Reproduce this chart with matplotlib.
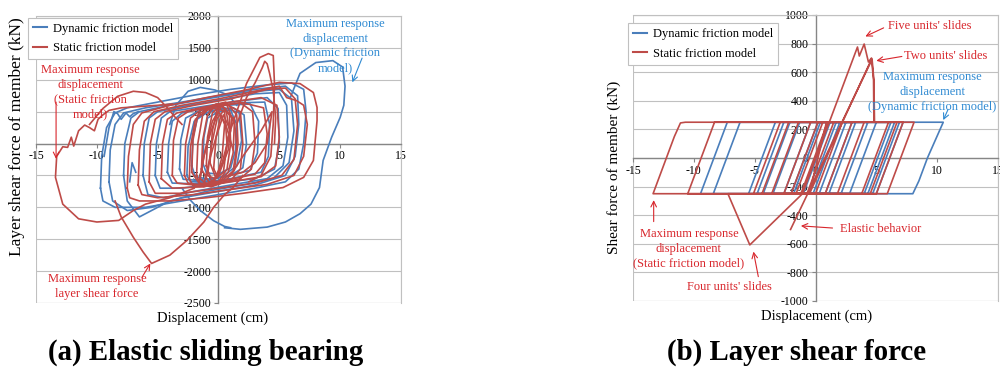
import matplotlib
matplotlib.use("Agg")
import matplotlib.pyplot as plt
from matplotlib.patches import Rectangle
from matplotlib.lines import Line2D

plt.rcParams['font.family'] = ['Liberation Serif', 'DejaVu Serif']
plt.rcParams['axes.unicode_minus'] = False

BLUE = '#4a7ebb'
RED = '#be4b48'
TBLUE = '#2f8ad2'
TRED = '#d8262c'

# ---------------- (a) Elastic sliding bearing : loops (x cm, y kN) ----------------
a_dyn_loops = [
    ([-9.7, -9.6, -9.2, -8.5, -7.5, -5, -2, 1, 4, 6, 7.0, 7.2, 7.0, 6.6, 5.5, 3, 0, -3, -6, -8.5, -9.5, -9.7],
     [-700, -200, 250, 480, 560, 650, 760, 850, 920, 950, 850, 500, 0, -400, -600, -700, -800, -900, -1000, -1000, -900, -700]),
    ([-9.0, -8.9, -8.5, -7.8, -6, -3, 0, 3, 5.5, 6.5, 6.6, 6.3, 5.5, 3, 0, -3, -5.5, -7.5, -8.7, -9.0],
     [-600, -100, 300, 480, 560, 650, 750, 850, 900, 750, 300, -200, -500, -650, -750, -850, -1000, -1050, -900, -600]),
    ([-7.8, -7.7, -7.2, -6.5, -4, -1, 2, 5, 6.0, 6.2, 5.8, 4.5, 2, -1, -4, -6.5, -7.5, -7.8],
     [-500, 0, 400, 500, 600, 700, 800, 850, 700, 200, -300, -550, -650, -750, -900, -1150, -900, -500]),
    ([-6.2, -6.1, -5.7, -5, -3, 0, 3, 5, 5.6, 5.7, 5.3, 4, 1, -2, -4.5, -5.8, -6.2],
     [-500, 0, 400, 500, 580, 680, 780, 800, 600, 100, -350, -550, -650, -750, -850, -800, -500]),
    ([-5.2, -5.1, -4.7, -4, -2, 1, 4, 4.9, 5.0, 4.6, 3, 0, -3, -4.8, -5.2],
     [-500, 0, 400, 500, 560, 650, 720, 550, 0, -400, -550, -620, -700, -700, -500]),
    ([-4.2, -4.1, -3.8, -3, -1, 2, 3.8, 4.2, 4.1, 3.5, 1, -2, -3.8, -4.2],
     [-450, 0, 350, 480, 560, 640, 650, 300, -200, -450, -550, -630, -620, -450]),
    ([-3.2, -3.1, -2.7, -1.5, 0.5, 2.6, 3.3, 3.2, 2.6, 0.5, -1.5, -2.9, -3.2],
     [-400, 50, 400, 520, 600, 620, 350, -150, -420, -520, -580, -560, -400]),
    ([-2.2, -2.1, -1.7, -0.5, 1.2, 2.1, 2.3, 2.0, 1, -0.8, -1.9, -2.2],
     [-350, 100, 420, 520, 560, 450, 0, -380, -500, -560, -520, -350]),
    ([-1.3, -1.2, -0.9, 0, 1.0, 1.5, 1.4, 1.0, 0, -1.0, -1.3],
     [-300, 100, 400, 500, 520, 300, -100, -380, -480, -460, -300]),
    ([-3.0, -2.3, -1.5, -0.4, 0.5, 1.0],
     [-700, -890, -1050, -1210, -1300, -1320]),
    ([0.5, 1.8, 4.0, 5.5, 6.7, 7.6, 8.3, 8.6, 9.3, 10.0, 10.3, 10.4, 10.2, 9.4, 8.0, 6.7, 5.9],
     [-1320, -1345, -1310, -1230, -1100, -950, -690, -265, 100, 410, 600, 900, 1200, 1300, 1270, 1100, 720]),
    ([-4.0, -3.5, -2.5, -1.5, -0.3, 0.8, 1.5],
     [300, 600, 820, 880, 840, 760, 600]),
    ([-9.4, -9.0, -8.6, -8.3, -8.0, -7.6, -7.3, -7.0, -6.6],
     [-200, 250, 500, 470, 380, 480, 420, 470, 500]),
    ([-7.3, -7.1, -6.8],
     [-600, -300, -450]),
    ([-2.6, -2.5, -2.0, -1.0, 0.5, 1.7, 1.9, 1.5, 0.3, -1.2, -2.3, -2.6],
     [-500, -50, 350, 480, 560, 480, 50, -350, -520, -600, -600, -500]),
]

a_sta_loops = [
    ([-2.0, -4.0, -6.0, -7.0, -8.2, -10.0, -11.5, -12.8, -13.4, -13.3, -12.8, -12.4, -12.1, -11.9, -11.5, -11.0, -10.6, -10.2, -9.9, -9.5, -9.0, -8.0, -6.5, -5.0, -3.8],
     [-700, -850, -950, -1050, -1205, -1230, -1180, -950, -530, -200, -50, -60, 100, -40, 200, 290, 250, 200, 380, 450, 520, 560, 580, 600, 620]),
    ([-10.6, -9.5, -8.3, -7.0, -6.0, -5.0, -4.2, -3.6, -3.0],
     [300, 550, 740, 820, 800, 720, 560, 420, 300]),
    ([-8.5, -8.0, -7.0, -6.2, -5.5, -4.0, -2.6, -1.2, -0.4, 0.5, 1.2, 2.0],
     [-900, -1150, -1470, -1700, -1880, -1750, -1520, -1230, -1000, -800, -690, -500]),
    ([-7.5, -7.4, -7.0, -6.3, -4, -1, 2, 5, 6.7, 7.8, 8.1, 8.1, 7.8, 7.0, 5.3, 2, -1, -4, -6.5, -7.3, -7.5],
     [-700, -200, 300, 480, 600, 720, 830, 960, 940, 800, 565, 360, -265, -530, -690, -780, -850, -900, -900, -850, -700]),
    ([-6.6, -6.5, -6.1, -5.3, -3, 0, 3, 5, 5.6, 6.4, 7.0, 7.3, 7.0, 6.2, 4, 1, -2, -5, -6.3, -6.6],
     [-650, -100, 350, 500, 600, 700, 820, 900, 720, 675, 600, 300, -200, -500, -640, -720, -800, -850, -800, -650]),
    ([-5.7, -5.6, -5.2, -4.4, -2, 1, 4, 5.5, 6.3, 6.5, 6.2, 5.2, 3, 0, -3, -5.2, -5.7],
     [-600, 0, 380, 500, 600, 700, 850, 870, 700, 300, -250, -500, -620, -700, -780, -780, -600]),
    ([-4.7, -4.6, -4.2, -3.4, -1.5, 1, 3.5, 4.8, 5.0, 4.7, 3.5, 1, -1.5, -3.8, -4.7],
     [-550, 0, 380, 480, 560, 650, 720, 600, 100, -350, -520, -600, -680, -700, -550]),
    ([-3.8, -3.7, -3.3, -2.5, -0.5, 2, 3.7, 4.0, 3.8, 3.0, 0.5, -2, -3.4, -3.8],
     [-500, 50, 400, 500, 580, 640, 560, 150, -300, -480, -580, -650, -620, -500]),
    ([0.7, 1.5, 2.3, 3.4, 4.1, 4.5, 4.6, 4.5, 4.3, 3.5, 2.5],
     [50, 500, 940, 1350, 1410, 1380, 940, 310, -200, -500, -600]),
    ([1.5, 2.3, 3.0, 3.6, 3.8, 4.0, 4.2, 4.5, 4.7, 4.6],
     [300, 720, 950, 1190, 1290, 1250, 1100, 830, 400, 0]),
    ([-2.8, -2.7, -2.3, -1.5, 0, 1.8, 2.8, 3.0, 2.7, 1.8, 0, -1.5, -2.5, -2.8],
     [-500, 0, 400, 520, 600, 640, 500, 0, -400, -550, -620, -650, -620, -500]),
    ([-2.2, -2.1, -1.7, -0.8, 0.6, 1.8, 2.0, 1.8, 1.0, -0.3, -1.6, -2.2],
     [-450, 50, 450, 560, 620, 500, 0, -400, -580, -650, -620, -450]),
    ([-1.8, -1.7, -1.3, -0.5, 0.6, 1.5, 1.6, 1.3, 0.5, -0.6, -1.5, -1.8],
     [-500, 0, 450, 600, 650, 450, 0, -420, -600, -680, -640, -500]),
    ([-1.4, -1.3, -0.9, -0.2, 0.7, 1.3, 1.2, 0.8, 0, -0.8, -1.4],
     [-400, 50, 450, 620, 600, 300, -150, -450, -620, -600, -400]),
    ([-1.0, -0.9, -0.5, 0.2, 0.9, 1.0, 0.7, 0, -0.6, -1.0],
     [-350, 100, 480, 600, 450, 0, -400, -600, -580, -350]),
    ([-0.7, -0.5, -0.1, 0.5, 0.7, 0.4, -0.2, -0.7],
     [-300, 200, 550, 500, 0, -450, -550, -300]),
    ([-1.6, -1.2, -0.6, 0.0, 0.6, 1.2],
     [-600, -200, 200, 500, 300, -100]),
    ([-1.2, -0.8, -0.2, 0.4, 1.0, 0.3, -0.5, -1.2],
     [-650, -300, 100, 450, 200, -300, -650, -650]),
    ([1.0, 2.0, 3.5, 4.4, 4.0, 3.0, 2.0, 1.0],
     [-500, -200, 200, 500, 0, -300, -450, -500]),
    ([-1.5, -1.1, -0.5, 0.3, 1.1, 0.8, 0.0, -0.9, -1.5],
     [-550, -100, 350, 600, 400, -100, -500, -650, -550]),
    ([-0.9, -0.6, -0.1, 0.6, 0.9, 0.5, -0.3, -0.9],
     [-500, -50, 400, 550, 200, -250, -550, -500]),
    ([-2.4, -2.3, -1.9, -1.0, 0.3, 1.3, 1.5, 1.2, 0.2, -1.2, -2.1, -2.4],
     [-550, -50, 380, 520, 580, 380, -50, -430, -600, -680, -660, -550]),
    ([-0.4, -0.2, 0.2, 0.5, 0.3, -0.1, -0.4],
     [-400, 100, 450, 300, -200, -500, -400]),
]

# ---------------- (b) Layer shear force : polylines (x cm, y kN) ----------------
b_dyn_x = [0, 1.1, 2.0, -0.2, -2.0, 0.2, 3.3, 1.1, -3.5, -1.3, 4.3, 2.1, -4.8, -2.6, 6.5, 4.3,
           -5.5, -3.3, 7.2, 5.0, -9.45, -7.25, 10.5, 9.2, 8.5, 8.0, -8.4, -6.2, 6.9, 4.7, -4.3,
           -2.1, 6.2, 4.0, -2.6, -0.4, 5.0, 2.8, -1.8, 0.4, 3.0, 0.8, -1.0, 1.2, 2.5, 0.3, -0.5, 1.7]
b_dyn_y = [0, 250, 250, -250, -250, 250, 250, -250, -250, 250, 250, -250, -250, 250, 250, -250,
           -250, 250, 250, -250, -250, 250, 250, 0, -160, -250, -250, 250, 250, -250, -250,
           250, 250, -250, -250, 250, 250, -250, -250, 250, 250, -250, -250, 250, 250, -250, -250, 250]

b_sta_x = [-2.05, 4.65, 4.8, 4.85, 8.1, 5.9, -13.35, -11.6, -11.1, -10.7, 7.2, 5.0, -10.5, -8.3,
           6.7, 4.5, -7.2, -5.4, -1.07, 3.45, 3.6, 4.0, 4.35, 4.6, 4.77, 4.8, 6.0, 3.8, -5.1,
           -2.9, 4.0, 1.8, -4.4, -2.2, 3.0, 0.8, -3.6, -1.4, 2.2, 0.0, -2.6, -0.4, 1.5, -0.7,
           -2.0, 0.2, 1.0, -1.2, -1.6, 0.6, 0.9, -0.5, 4.6]
b_sta_y = [-500, 690, 545, 250, 250, -250, -250, 150, 245, 250, 250, -250, -250, 250,
           250, -250, -250, -608, -250, 776, 713, 797, 671, 699, 545, 250, 250, -250, -250,
           250, 250, -250, -250, 250, 250, -250, -250, 250, 250, -250, -250, 250, 250, -250,
           -250, 250, 250, -250, -250, 250, 250, -250, 690]

legend_labels = ['Dynamic friction model', 'Static friction model']

fig = plt.figure(figsize=(10, 3.72), dpi=100)
axA = fig.add_axes([0.036, 0.1855, 0.365, 0.7715])
axB = fig.add_axes([0.633, 0.191, 0.365, 0.7687])


def style(ax, ylim, yticks):
    ax.set_xlim(-15, 15)
    ax.set_ylim(*ylim)
    ax.set_xticks([-15, -10, -5, 0, 5, 10, 15])
    ax.set_yticks(yticks)
    ax.spines['left'].set_position(('data', 0))
    ax.spines['bottom'].set_position(('data', 0))
    for s in ['left', 'bottom']:
        ax.spines[s].set_color('#868686')
        ax.spines[s].set_linewidth(1.0)
    for s in ['top', 'right']:
        ax.spines[s].set_color('#c0c0c0')
        ax.spines[s].set_linewidth(0.8)
    ax.add_patch(Rectangle((0, 0), 1, 1, transform=ax.transAxes, fill=False,
                           ec='#c0c0c0', lw=0.8, zorder=0.5))
    ax.yaxis.grid(True, color='#c0c0c0', lw=0.8)
    ax.set_axisbelow(True)
    ax.tick_params(axis='both', direction='out', length=3, width=0.8, color='#868686',
                   labelsize=8.5, pad=2)


style(axA, (-2500, 2000), list(range(-2500, 2001, 500)))
style(axB, (-1000, 1000), list(range(-1000, 1001, 200)))

for xs, ys in a_dyn_loops:
    axA.plot(xs, ys, color=BLUE, lw=1.2, zorder=3)
for xs, ys in a_sta_loops:
    axA.plot(xs, ys, color=RED, lw=1.2, zorder=3)
axB.plot(b_dyn_x, b_dyn_y, color=BLUE, lw=1.2, zorder=3)
axB.plot(b_sta_x, b_sta_y, color=RED, lw=1.2, zorder=3)

# legends
handles = [Line2D([], [], color=BLUE, lw=1.5), Line2D([], [], color=RED, lw=1.5)]
for ax, anchor in [(axA, (0.028, 0.952)), (axB, (0.628, 0.938))]:
    lg = ax.legend(handles, legend_labels, loc='upper left', bbox_to_anchor=anchor,
                   bbox_transform=fig.transFigure, fancybox=False, framealpha=1,
                   edgecolor='#c0c0c0', fontsize=9, handlelength=1.1, handletextpad=0.5,
                   borderpad=0.4, labelspacing=0.6, borderaxespad=0)
    lg.get_frame().set_linewidth(0.8)
    lg.set_zorder(5)

arrow_r = dict(arrowstyle='->', color=TRED, lw=0.8, shrinkA=0, shrinkB=0)
arrow_b = dict(arrowstyle='->', color=TBLUE, lw=0.8, shrinkA=0, shrinkB=0)

# annotations (a)
axA.text(-10.5, 800, 'Maximum response\ndisplacement\n(Static friction\nmodel)', color=TRED,
         fontsize=9, ha='center', va='center', linespacing=1.3, zorder=6)
axA.annotate('', xy=(-13.35, -240), xytext=(-13.35, 650), arrowprops=arrow_r, zorder=6)
axA.text(9.6, 1530, 'Maximum response\ndisplacement\n(Dynamic friction\nmodel)', color=TBLUE,
         fontsize=9, ha='center', va='center', linespacing=1.3, zorder=6)
axA.annotate('', xy=(11.0, 960), xytext=(11.8, 1340), arrowprops=arrow_b, zorder=6)
axA.text(-10.0, -2245, 'Maximum response\nlayer shear force', color=TRED,
         fontsize=9, ha='center', va='center', linespacing=1.3, zorder=6)
axA.annotate('', xy=(-5.6, -1880), xytext=(-6.3, -2100), arrowprops=arrow_r, zorder=6)

# annotations (b)
axB.text(6.0, 920, "Five units' slides", color=TRED, fontsize=9, ha='left', va='center', zorder=6)
axB.annotate('', xy=(4.1, 850), xytext=(5.6, 910), arrowprops=arrow_r, zorder=6)
axB.text(7.3, 710, "Two units' slides", color=TRED, fontsize=9, ha='left', va='center', zorder=6)
axB.annotate('', xy=(5.0, 680), xytext=(7.1, 710), arrowprops=arrow_r, zorder=6)
axB.text(9.6, 462, 'Maximum response\ndisplacement\n(Dynamic friction model)', color=TBLUE,
         fontsize=9, ha='center', va='center', linespacing=1.3, zorder=6)
axB.annotate('', xy=(10.5, 265), xytext=(10.9, 340), arrowprops=arrow_b, zorder=6)
axB.text(2.0, -498, 'Elastic behavior', color=TRED, fontsize=9, ha='left', va='center', zorder=6)
axB.annotate('', xy=(-1.2, -475), xytext=(1.4, -490), arrowprops=arrow_r, zorder=6)
axB.text(-10.4, -636, 'Maximum response\ndisplacement\n(Static friction model)', color=TRED,
         fontsize=9, ha='center', va='center', linespacing=1.3, zorder=6)
axB.annotate('', xy=(-13.3, -295), xytext=(-13.3, -445), arrowprops=arrow_r, zorder=6)
axB.text(-7.1, -905, "Four units' slides", color=TRED, fontsize=9, ha='center', va='center', zorder=6)
axB.annotate('', xy=(-5.1, -655), xytext=(-4.7, -830), arrowprops=arrow_r, zorder=6)

# axis labels and titles
fig.text(0.017, 1 - 137 / 372, 'Layer shear force of member (kN)', rotation=90,
         ha='center', va='center', fontsize=12.5)
fig.text(0.614, 1 - 167 / 372, 'Shear force of member (kN)', rotation=90,
         ha='center', va='center', fontsize=11)
fig.text(0.213, 1 - 318 / 372, 'Displacement (cm)', ha='center', va='center', fontsize=10.5)
fig.text(0.817, 1 - 316 / 372, 'Displacement (cm)', ha='center', va='center', fontsize=10.5)
fig.text(0.206, 1 - 352 / 372, '(a) Elastic sliding bearing', ha='center', va='center',
         fontsize=20.8, fontweight='bold')
fig.text(0.797, 1 - 352 / 372, '(b) Layer shear force', ha='center', va='center',
         fontsize=20.8, fontweight='bold')

fig.savefig('out.png', dpi=100)
